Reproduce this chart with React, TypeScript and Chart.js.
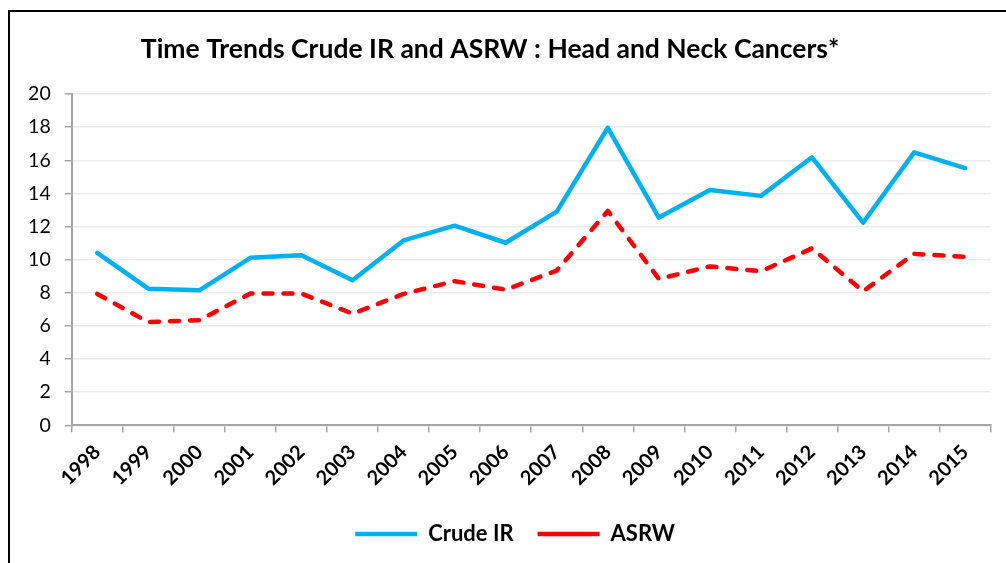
import React, { useEffect, useRef } from "react";
import { Chart, registerables } from "chart.js";

Chart.register(...registerables);

const years = [
  "1998", "1999", "2000", "2001", "2002", "2003", "2004", "2005", "2006",
  "2007", "2008", "2009", "2010", "2011", "2012", "2013", "2014", "2015",
];
const crudeIR = [
  10.41, 8.25, 8.15, 10.11, 10.27, 8.76, 11.16, 12.05, 11.02,
  12.9, 17.96, 12.54, 14.2, 13.85, 16.18, 12.23, 16.48, 15.53,
];
const asrw = [
  7.93, 6.23, 6.35, 7.95, 7.95, 6.74, 7.93, 8.7, 8.19,
  9.34, 12.94, 8.84, 9.59, 9.3, 10.68, 8.09, 10.35, 10.17,
];
const yMin = 0;
const yMax = 20;
const yStep = 2;
const titleText = "Time Trends Crude IR and ASRW : Head and Neck Cancers*";

const FONT = "Lato, 'Open Sans', sans-serif";
const AXIS_GRAY = "#a6a6a6";

export default function App() {
  const ref = useRef<HTMLCanvasElement | null>(null);

  useEffect(() => {
    if (!ref.current) return;
    const titlePlugin = {
      id: "customTitle",
      afterDraw(chart: any) {
        const ctx = chart.ctx;
        ctx.save();
        ctx.font = `bold 26.5px ${FONT}`;
        ctx.fillStyle = "#000";
        ctx.textAlign = "center";
        ctx.textBaseline = "middle";
        ctx.fillText(titleText, 490, 49);
        ctx.restore();
      },
    };
    const chart = new Chart(ref.current, {
      type: "line",
      data: {
        labels: years,
        datasets: [
          {
            label: "Crude IR",
            data: crudeIR,
            borderColor: "#00B0F0",
            backgroundColor: "#00B0F0",
            borderWidth: 4.5,
            pointRadius: 0,
            tension: 0,
            borderCapStyle: "round",
            borderJoinStyle: "round",
          },
          {
            label: "ASRW",
            data: asrw,
            borderColor: "#FF0000",
            backgroundColor: "#FF0000",
            borderWidth: 4.5,
            borderDash: [9, 11],
            pointRadius: 0,
            tension: 0,
            borderCapStyle: "round",
            borderJoinStyle: "round",
          },
        ],
      },
      options: {
        responsive: false,
        animation: false,
        layout: { padding: { left: 24, right: 0, top: 94, bottom: 8 } },
        plugins: {
          title: { display: false },
          tooltip: { enabled: false },
          legend: {
            position: "bottom",
            labels: {
              usePointStyle: true,
              pointStyle: "line",
              pointStyleWidth: 62,
              boxHeight: 20,
              padding: 24,
              color: "#000",
              font: { family: FONT, size: 22, weight: "bold" },
            },
          },
        },
        scales: {
          x: {
            offset: true,
            grid: {
              offset: true,
              drawOnChartArea: false,
              drawTicks: true,
              tickLength: 7,
              tickColor: AXIS_GRAY,
              lineWidth: 1.5,
            },
            border: { color: AXIS_GRAY, width: 2 },
            ticks: {
              minRotation: 45,
              maxRotation: 45,
              autoSkip: false,
              padding: 8,
              color: "#000",
              font: { family: FONT, size: 20, weight: "bold" },
            },
            afterFit(scale: any) {
              scale.height = 73.7;
            },
          },
          y: {
            min: yMin,
            max: yMax,
            ticks: {
              stepSize: yStep,
              padding: 14,
              color: "#000",
              font: { family: FONT, size: 19.5 },
            },
            grid: {
              color: "#ececec",
              lineWidth: 1.5,
              tickLength: 7,
              tickColor: AXIS_GRAY,
            },
            border: { color: AXIS_GRAY, width: 2 },
            afterFit(scale: any) {
              scale.width = 47.7;
            },
          },
          yRightSpacer: {
            type: "linear",
            position: "right",
            display: true,
            grid: { display: false, drawTicks: false },
            border: { display: false },
            ticks: { display: false },
            afterFit(scale: any) {
              scale.width = 15.3;
            },
          },
        },
      },
      plugins: [titlePlugin],
    } as any);
    return () => chart.destroy();
  }, []);

  return (
    <div
      style={{
        position: "fixed",
        left: 0,
        top: 0,
        width: 1006,
        height: 563,
        overflow: "hidden",
        background: "#fff",
      }}
    >
      <div
        style={{
          position: "absolute",
          left: 8,
          top: 10,
          width: 1100,
          height: 700,
          border: "2px solid #000",
          boxSizing: "border-box",
        }}
      />
      <canvas
        ref={ref}
        width={1006}
        height={563}
        style={{ position: "absolute", left: 0, top: 0, width: 1006, height: 563 }}
      />
    </div>
  );
}
